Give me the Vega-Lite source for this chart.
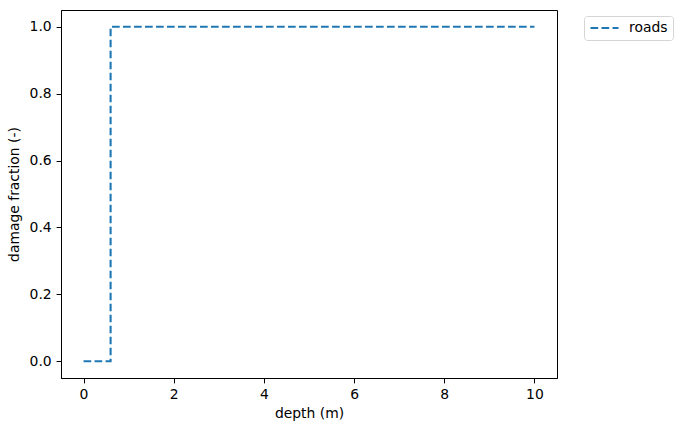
{
  "$schema": "https://vega.github.io/schema/vega-lite/v6.json",
  "width": 496,
  "height": 368,
  "autosize": {"type": "none"},
  "padding": {"left": 61, "top": 10, "right": 125, "bottom": 54},
  "background": "white",
  "config": {
    "font": "DejaVu Sans",
    "view": {"stroke": "black", "strokeWidth": 1},
    "axis": {
      "grid": false,
      "domainColor": "black",
      "tickColor": "black",
      "labelColor": "black",
      "titleColor": "black",
      "labelFontSize": 13.9,
      "titleFontSize": 13.9,
      "titleFontWeight": "normal",
      "tickSize": 4.9,
      "labelPadding": 4.9
    }
  },
  "data": {
    "values": [
      {"depth": 0, "damage": 0, "i": 0, "series": "roads"},
      {"depth": 0.6, "damage": 0, "i": 1, "series": "roads"},
      {"depth": 0.6, "damage": 1, "i": 2, "series": "roads"},
      {"depth": 10, "damage": 1, "i": 3, "series": "roads"}
    ]
  },
  "mark": {"type": "line", "strokeDash": [7.7, 3.3], "strokeWidth": 2.08},
  "encoding": {
    "x": {
      "field": "depth",
      "type": "quantitative",
      "scale": {"domain": [-0.5, 10.5], "nice": false, "zero": false},
      "axis": {"values": [0, 2, 4, 6, 8, 10], "title": "depth (m)", "titlePadding": 5}
    },
    "y": {
      "field": "damage",
      "type": "quantitative",
      "scale": {"domain": [-0.05, 1.05], "nice": false, "zero": false},
      "axis": {"values": [0, 0.2, 0.4, 0.6, 0.8, 1.0], "format": ".1f", "title": "damage fraction (-)", "titlePadding": 8}
    },
    "order": {"field": "i"},
    "color": {
      "field": "series",
      "type": "nominal",
      "scale": {"range": ["#1f77b4"]},
      "legend": {
        "title": null,
        "orient": "none",
        "legendX": 523,
        "legendY": 6,
        "symbolType": "stroke",
        "symbolStrokeWidth": 2.08,
        "symbolSize": 784,
        "symbolDash": [7.7, 3.3],
        "labelFontSize": 13.9,
        "labelColor": "black",
        "labelOffset": 9,
        "clipHeight": 14,
        "strokeColor": "#d5d5d5",
        "fillColor": "white",
        "cornerRadius": 3,
        "padding": 5
      }
    }
  }
}
